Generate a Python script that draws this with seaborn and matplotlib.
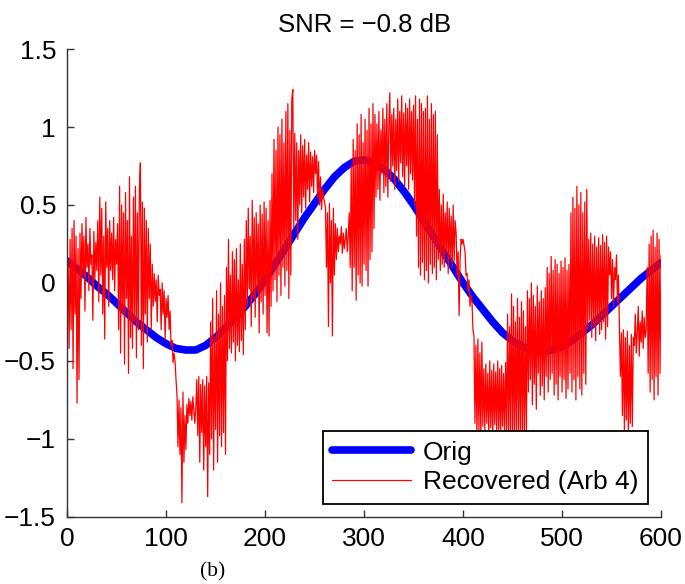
import numpy as np
import pandas as pd
import seaborn as sns
import matplotlib.pyplot as plt

#%% dados

# sinal original (amostrado a cada 10 pontos)
orig_x = list(range(0, 601, 10))
orig_y = [0.14, 0.09, 0.04, -0.02, -0.07, -0.13, -0.19, -0.25, -0.30, -0.35,
          -0.39, -0.42, -0.43, -0.43, -0.40, -0.35, -0.29, -0.22, -0.15, -0.07,
          0.02, 0.12, 0.22, 0.32, 0.42, 0.51, 0.60, 0.68, 0.74, 0.78,
          0.79, 0.77, 0.73, 0.67, 0.59, 0.50, 0.40, 0.30, 0.20, 0.10,
          0.00, -0.09, -0.17, -0.25, -0.32, -0.37, -0.41, -0.43, -0.44, -0.43,
          -0.41, -0.37, -0.32, -0.27, -0.21, -0.15, -0.09, -0.03, 0.03, 0.08,
          0.13]

# sinal recuperado (Arb 4), amostras 1..600
rec_x = list(range(1, 601))
rec_y = [
    0.15, -0.42, 0.28, -0.30, 0.35, -0.55, 0.40, -0.20, 0.30, -0.77,
    0.22, -0.62, 0.32, -0.10, 0.38, 0.05, 0.30, -0.18, 0.42, 0.10,
    0.25, -0.05, 0.35, 0.12, 0.18, -0.24, 0.33, 0.02, 0.26, 0.08,
    0.40, -0.12, 0.55, 0.05, 0.48, -0.20, 0.30, -0.36, 0.52, 0.10,
    0.35, -0.15, 0.40, 0.08, 0.32, 0.02, 0.42, -0.05, 0.28, 0.12,
    0.38, -0.30, 0.62, -0.45, 0.50, -0.20, 0.45, -0.52, 0.58, -0.10,
    0.40, -0.58, 0.68, -0.35, 0.30, -0.42, 0.55, -0.25, 0.62, -0.48,
    0.45, -0.30, 0.60, 0.77, -0.40, 0.52, -0.55, 0.48, -0.20, 0.40,
    -0.38, 0.35, -0.10, 0.25, -0.30, 0.12, -0.15, 0.06, -0.12, 0.02,
    -0.25, 0.05, -0.08, -0.04, -0.30, 0.00, -0.20, -0.05, -0.36, -0.10,
    -0.22, -0.08, -0.30, -0.18, -0.40, -0.37, -0.51, -0.45, -0.50, -0.62,
    -0.72, -1.05, -0.75, -1.10, -0.80, -1.41, -0.70, -1.15, -0.85, -1.07,
    -0.78, -0.90, -0.74, -0.85, -0.76, -0.88, -0.73, -0.82, -0.90, -0.80,
    -0.62, -0.98, -0.60, -1.15, -0.65, -0.96, -0.62, -1.20, -0.66, -1.05,
    -0.60, -1.37, -0.64, -1.10, -0.25, -1.00, -0.10, -1.20, -0.35, -0.94,
    -0.05, -1.15, -0.20, -0.98, 0.00, -1.05, -0.15, -0.96, -0.08, -1.10,
    0.10, -0.50, 0.28, -0.42, 0.05, -0.45, 0.20, -0.38, 0.15, -0.50,
    0.22, -0.40, 0.02, -0.44, 0.25, -0.37, 0.12, -0.46, 0.28, -0.30,
    0.40, -0.15, 0.48, -0.04, 0.30, -0.28, 0.53, -0.10, 0.42, -0.22,
    0.45, -0.05, 0.38, -0.32, 0.50, -0.12, 0.44, -0.20, 0.52, -0.08,
    0.48, -0.32, 0.40, -0.34, 0.53, -0.15, 0.70, -0.05, 0.92, 0.02,
    0.85, -0.12, 1.00, 0.05, 0.95, -0.08, 1.05, 0.10, 0.90, -0.02,
    1.10, 0.08, 1.15, -0.10, 0.98, 0.05, 1.18, 1.24, 0.35, 0.96,
    0.40, 0.90, 0.28, 0.85, 0.50, 0.95, 0.45, 0.88, 0.55, 0.92,
    0.48, 0.82, 0.60, 0.90, 0.52, 0.84, 0.62, 0.81, 0.58, 0.85,
    0.70, 0.82, 0.55, 0.78, 0.50, 0.68, 0.47, 0.60, 0.55, 0.52,
    0.48, 0.10, 0.45, -0.28, 0.51, 0.00, 0.40, -0.34, 0.48, 0.05,
    0.38, 0.15, 0.35, 0.20, 0.30, 0.25, 0.36, 0.19, 0.32, 0.22,
    0.28, 0.35, 0.20, 0.30, 0.45, 0.10, 0.75, -0.05, 0.92, 0.10,
    0.85, -0.11, 1.02, 0.05, 0.95, 0.00, 1.08, -0.02, 0.90, 0.12,
    1.05, 0.08, 0.98, -0.02, 1.12, 0.15, 1.02, 0.20, 1.15, 0.35,
    1.08, 0.55, 1.02, 0.60, 1.10, 0.53, 0.98, 0.70, 1.12, 0.58,
    1.05, 0.62, 1.15, 0.55, 1.00, 1.22, 0.65, 1.08, 0.75, 1.12,
    0.60, 1.05, 0.72, 1.18, 0.65, 1.10, 0.77, 1.20, 0.68, 1.09,
    0.62, 1.15, 0.75, 1.12, 0.60, 1.18, 0.70, 1.10, 0.66, 1.14,
    0.50, 1.20, 0.30, 1.05, 0.10, 1.18, 0.05, 1.15, 0.13, 1.10,
    0.02, 1.12, 0.08, 1.20, 0.00, 1.05, 0.12, 1.15, 0.06, 1.08,
    0.10, 1.10, 0.02, 0.95, 0.15, 0.60, 0.08, 0.50, 0.12, 0.57,
    0.10, 0.45, 0.19, 0.52, 0.06, 0.48, 0.15, 0.43, 0.10, 0.50,
    0.14, 0.40, 0.32, 0.05, 0.20, -0.21, 0.15, 0.28, 0.25, 0.28,
    0.24, 0.20, 0.05, 0.06, -0.05, 0.02, -0.15, -0.08, -0.12, -0.30,
    -0.34, -0.90, -0.40, -0.98, -0.36, -0.95, -0.45, -1.00, -0.38, -0.92,
    -0.55, -0.95, -0.52, -0.90, -0.58, -0.98, -0.50, -0.93, -0.56, -0.99,
    -0.52, -0.91, -0.57, -0.96, -0.50, -0.94, -0.55, -1.00, -0.53, -0.92,
    -0.58, -0.97, -0.51, -0.95, -0.20, -1.02, -0.28, -0.96, -0.07, -1.05,
    -0.15, -0.98, -0.25, -1.00, -0.10, -0.95, -0.22, -1.03, -0.12, -0.97,
    -0.18, -1.00, -0.28, -0.96, -0.05, -0.70, -0.10, -0.62, 0.00, -0.78,
    -0.08, -0.65, -0.15, -0.81, -0.02, -0.58, -0.12, -0.72, -0.05, -0.66,
    -0.10, -0.75, -0.03, -0.60, 0.10, -0.70, 0.06, -0.62, 0.17, -0.58,
    0.08, -0.72, 0.15, -0.65, 0.12, -0.75, 0.06, -0.60, 0.14, -0.70,
    0.10, -0.62, 0.16, -0.74, 0.08, -0.68, 0.12, -0.58, 0.45, -0.70,
    0.55, -0.62, 0.48, -0.75, 0.62, -0.60, 0.50, -0.68, 0.58, -0.72,
    0.45, -0.58, 0.52, -0.65, 0.60, -0.30, 0.28, -0.24, 0.32, -0.35,
    0.25, -0.28, 0.30, -0.37, 0.23, -0.26, 0.29, -0.33, 0.24, -0.30,
    0.31, -0.25, 0.26, -0.36, 0.30, -0.28, 0.23, 0.05, 0.20, -0.10,
    0.15, -0.15, 0.10, 0.02, 0.18, -0.12, 0.05, -0.30, -0.60, -0.32,
    -0.85, -0.30, -0.95, -0.35, -0.88, -0.31, -1.00, -0.40, -0.90, -0.33,
    -0.92, -0.35, -0.40, -0.20, -0.45, -0.32, -0.15, -0.47, -0.25, -0.38,
    -0.18, -0.42, -0.22, -0.35, -0.30, 0.10, -0.58, 0.25, -0.70, 0.30,
    -0.62, 0.34, -0.75, 0.23, -0.60, 0.32, -0.72, 0.28, -0.58, 0.18,
]

xticks = [0, 100, 200, 300, 400, 500, 600]
yticks = [-1.5, -1, -0.5, 0, 0.5, 1, 1.5]
ytick_labels = ['\u22121.5', '\u22121', '\u22120.5', '0', '0.5', '1', '1.5']

#%% grafico
sns.set_style('ticks')
plt.rcParams['font.family'] = ['Liberation Sans', 'DejaVu Sans']

df_orig = pd.DataFrame({'x': orig_x, 'y': orig_y})
df_rec = pd.DataFrame({'x': rec_x, 'y': rec_y})

fig = plt.figure(figsize=(6.85, 5.84), dpi=100)
ax = fig.add_axes([0.098, 0.115, 0.867, 0.801])

sns.lineplot(data=df_orig, x='x', y='y', color='blue', lw=5.5,
             label='Orig', estimator=None, sort=False, ax=ax)
sns.lineplot(data=df_rec, x='x', y='y', color='red', lw=0.9,
             label='Recovered (Arb 4)', estimator=None, sort=False, ax=ax)

ax.set_xlim(0, 600)
ax.set_ylim(-1.5, 1.5)
ax.set_xticks(xticks)
ax.set_xticklabels([str(t) for t in xticks])
ax.set_yticks(yticks)
ax.set_yticklabels(ytick_labels)
ax.set_xlabel('')
ax.set_ylabel('')

sns.despine(ax=ax)
for s in ['left', 'bottom']:
    ax.spines[s].set_color('#333333')
    ax.spines[s].set_linewidth(1.0)
ax.tick_params(direction='in', length=5, width=1.0, color='#333333',
               labelsize=19, labelcolor='black')
ax.tick_params(axis='y', pad=8)
ax.tick_params(axis='x', pad=7)

ax.set_title('SNR = \u22120.8 dB', fontsize=18.5, pad=12, color='black')

leg = ax.legend(loc='lower right', fontsize=19, frameon=True, fancybox=False,
                edgecolor='black', framealpha=1, handlelength=3.0,
                borderpad=0.35, labelspacing=0.22, handletextpad=0.45,
                borderaxespad=0.5)
leg.get_frame().set_linewidth(1.3)
for t in leg.get_texts():
    t.set_color('black')

fig.text(0.311, 0.005, '(b)', fontsize=15.5, family='Liberation Serif',
         ha='center', va='bottom', color='black')

plt.savefig('out.png', dpi=100)
